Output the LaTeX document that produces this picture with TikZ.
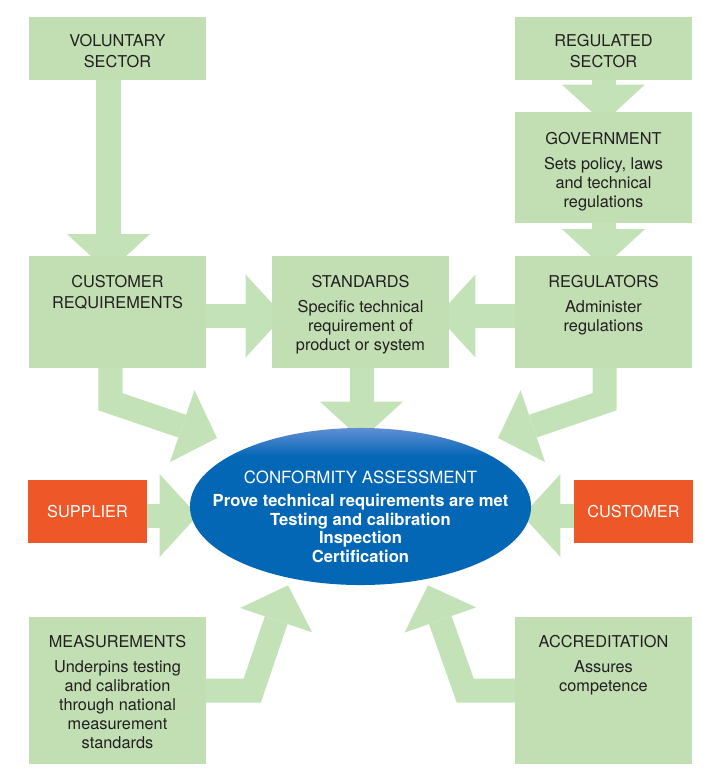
\documentclass[tikz,border=0pt]{standalone}
\usepackage{fontspec}
\setmainfont{TeX Gyre Heros}
\usetikzlibrary{arrows.meta,calc,backgrounds,shapes.geometric}
\definecolor{boxgreen}{RGB}{193,223,179}
\definecolor{arrowgreen}{RGB}{196,226,184}
\definecolor{supplyred}{RGB}{238,88,40}
\definecolor{cablue}{RGB}{4,103,181}
\definecolor{catop}{RGB}{96,142,212}
\definecolor{textgray}{RGB}{35,31,32}
\pgfdeclareverticalshading{cashade}{100bp}{color(0bp)=(cablue); color(25bp)=(cablue); color(66bp)=(cablue); color(75bp)=(catop); color(100bp)=(catop)}

\tikzset{
  greenbox/.style={fill=boxgreen, minimum width=4.425cm, inner sep=0pt},
  redbox/.style={fill=supplyred, minimum width=2.95cm, minimum height=1.575cm, inner sep=0pt, text=white, font=\fontsize{11.6}{13.5}\selectfont},
  boxtext/.style={anchor=north, align=center, inner sep=0pt, text=textgray, font=\fontsize{11.6}{13.5}\selectfont},
  blockarrow/.style={draw=arrowgreen, line width=0.6cm, line join=miter, -{Triangle[width=2.07cm, length=0.95cm, line width=0pt]}},
  bentarrow/.style={blockarrow, -{Triangle[width=1.9cm, length=0.92cm, line width=0pt]}}
}

\begin{document}
\begin{tikzpicture}[x=0.025cm, y=-0.025cm]
\useasboundingbox (0,0) rectangle (718,776);

\node[greenbox, minimum height=1.575cm] (vol) at (117.5,48.5) {};
\node[greenbox, minimum height=1.575cm] (reg) at (603.5,48.5) {};
\node[greenbox, minimum height=2.775cm] (gov) at (603.5,167.5) {};
\node[greenbox, minimum height=2.775cm] (custreq) at (117.5,312) {};
\node[greenbox, minimum height=2.775cm] (std) at (360.5,312) {};
\node[greenbox, minimum height=2.775cm] (regs) at (603.5,312) {};
\node[greenbox, minimum height=3.675cm] (meas) at (117.5,690.5) {};
\node[greenbox, minimum height=3.675cm] (accr) at (603.5,690.5) {};
\node[redbox] (sup) at (87.5,511.5) {SUPPLIER};
\node[redbox] (cust) at (633.5,511.5) {CUSTOMER};
\node[ellipse, shade, shading=cashade, minimum width=8.525cm, minimum height=3.925cm, inner sep=0pt] (ca) at (360.5,506.5) {};

\node[boxtext] (vol-t) at ($(vol.north)+(0,17)$) {VOLUNTARY\\[1.5pt]SECTOR};
\node[boxtext] (reg-t) at ($(reg.north)+(0,17)$) {REGULATED\\[1.5pt]SECTOR};
\node[boxtext] (gov-t) at ($(gov.north)+(0,20)$) {GOVERNMENT\\[4.5pt]Sets policy, laws\\and technical\\regulations};
\node[boxtext] (custreq-t) at ($(custreq.north)+(0,19)$) {CUSTOMER\\[1pt]REQUIREMENTS};
\node[boxtext] (std-t) at ($(std.north)+(0,19)$) {STANDARDS\\[4.5pt]Specific technical\\requirement of\\product or system};
\node[boxtext] (regs-t) at ($(regs.north)+(0,19)$) {REGULATORS\\[4.5pt]Administer\\regulations};
\node[boxtext] (meas-t) at ($(meas.north)+(0,18)$) {MEASUREMENTS\\[4.5pt]Underpins testing\\and calibration\\through national\\measurement\\standards};
\node[boxtext] (accr-t) at ($(accr.north)+(0,18)$) {ACCREDITATION\\[4.5pt]Assures\\competence};
\node[boxtext, text=white, font=\fontsize{12}{13.3}\selectfont] (ca-t) at ($(ca.north)+(0,43)$) {CONFORMITY ASSESSMENT};
\node[boxtext, text=white, font=\fontsize{11.8}{13.3}\selectfont\bfseries] (ca-b) at ($(ca.north)+(0,66)$) {Prove technical requirements are met\\Testing and calibration\\Inspection\\Certification};

\coordinate (cr-bend) at ($(custreq.south)+(-7,34)$);
\coordinate (cr-tip) at ($(ca.center)+(-143.5,-68.5)$);
\coordinate (rg-bend) at ($(regs.south)+(1,34)$);
\coordinate (rg-tip) at ($(ca.center)+(137.5,-68.5)$);
\coordinate (ms-bend) at ($(meas.east)+(46,0)$);
\coordinate (ms-tip) at ($(ca.south)+(-72.5,0)$);
\coordinate (ac-bend) at ($(accr.west)+(-49.5,0)$);
\coordinate (ac-tip) at ($(ca.south)+(67.5,0)$);

\begin{scope}[on background layer]
\draw[blockarrow] ($(vol.south)+(-9,-10)$) -- ($(custreq.north)+(-9,16)$);
\draw[blockarrow] ($(reg.south)+(0,-10)$) -- ($(gov.north)+(0,11)$);
\draw[blockarrow] ($(gov.south)+(0,-10)$) -- ($(regs.north)+(0,11)$);
\draw[blockarrow] ($(custreq.east)+(-15,4)$) -- ($(std.west)+(12,4)$);
\draw[blockarrow] ($(regs.west)+(15,4)$) -- ($(std.east)+(-12,4)$);
\draw[blockarrow] ($(std.south)+(1,-10)$) -- ($(ca.north)+(1,12)$);
\draw[blockarrow] ($(sup.east)+(-15,4)$) -- ($(ca.west)+(8,9)$);
\draw[blockarrow] ($(cust.west)+(15,4)$) -- ($(ca.east)+(-9,9)$);
\draw[bentarrow] ($(custreq.south)+(-7,-10)$) -- (cr-bend) -- (cr-tip);
\draw[bentarrow] ($(regs.south)+(1,-10)$) -- (rg-bend) -- (rg-tip);
\draw[bentarrow] ($(meas.east)+(-15,0)$) -- (ms-bend) -- (ms-tip);
\draw[bentarrow] ($(accr.west)+(15,0)$) -- (ac-bend) -- (ac-tip);
\end{scope}
\end{tikzpicture}
\end{document}
